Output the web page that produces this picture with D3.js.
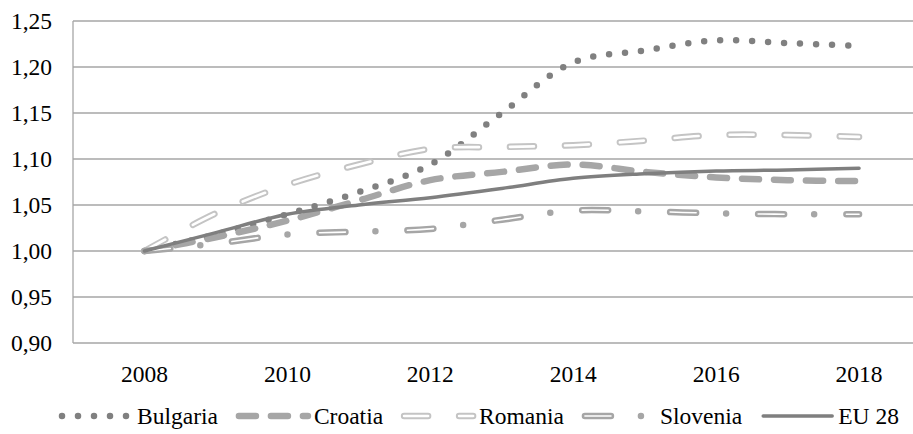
<!DOCTYPE html>
<html>
<head>
<meta charset="utf-8">
<script src="https://cdn.jsdelivr.net/npm/d3@7"></script>
</head>
<body style="margin:0">
<script>
// values
const years = [2008, 2009, 2010, 2011, 2012, 2013, 2014, 2015, 2016, 2017, 2018];
const bulgaria = [1.000, 1.018, 1.040, 1.064, 1.094, 1.150, 1.205, 1.218, 1.229, 1.226, 1.223];
const croatia  = [1.000, 1.015, 1.033, 1.055, 1.077, 1.086, 1.094, 1.086, 1.080, 1.077, 1.076];
const romania  = [1.000, 1.041, 1.072, 1.094, 1.111, 1.113, 1.115, 1.120, 1.126, 1.126, 1.124];
const slovenia = [1.000, 1.008, 1.018, 1.021, 1.024, 1.034, 1.044, 1.043, 1.041, 1.040, 1.040];
const eu28     = [1.000, 1.020, 1.040, 1.050, 1.058, 1.068, 1.079, 1.084, 1.087, 1.088, 1.090];
const yTicks = [0.90, 0.95, 1.00, 1.05, 1.10, 1.15, 1.20, 1.25];
const xTicks = [2008, 2010, 2012, 2014, 2016, 2018];

const width = 913, height = 434;
const margin = { top: 21, right: 0, bottom: 91, left: 73 };
const FONT = '"Liberation Serif"';
const FONT_SIZE = '23.5px';

// line styles per series (outer stroke, optional white inner stroke)
const series = [
    { name: 'Bulgaria', values: bulgaria, color: '#808080', w: 6.5, dash: '0 16' },
    { name: 'Croatia',  values: croatia,  color: '#a6a6a6', w: 6.5, dash: '17 15' },
    { name: 'Romania',  values: romania,  color: '#c4c4c4', w: 6.5, dash: '24 31', inner: 2.6, innerDash: '24 31' },
    { name: 'Slovenia', values: slovenia, color: '#a6a6a6', w: 6.5, dash: '26 30 0 32', inner: 1.6, innerDash: '26 62' },
    { name: 'EU 28',    values: eu28,     color: '#7f7f7f', w: 3.5, dash: null }
];

const svg = d3.select('body').append('svg')
    .attr('width', width)
    .attr('height', height)
    .style('display', 'block');

const x = d3.scaleLinear()
    .domain([2007, 2018.755])
    .range([margin.left, width - margin.right]);

const y = d3.scaleLinear()
    .domain([0.90, 1.25])
    .range([height - margin.bottom, margin.top]);

// gridlines
svg.append('g')
    .selectAll('line')
    .data(yTicks)
    .enter()
    .append('line')
    .attr('x1', margin.left)
    .attr('x2', width - margin.right)
    .attr('y1', d => y(d))
    .attr('y2', d => y(d))
    .attr('stroke', '#a6a6a6')
    .attr('stroke-width', 1.3);

// vertical axis line
svg.append('line')
    .attr('x1', margin.left)
    .attr('x2', margin.left)
    .attr('y1', y(1.25))
    .attr('y2', y(0.90))
    .attr('stroke', '#a6a6a6')
    .attr('stroke-width', 1.3);

// y labels
svg.append('g')
    .selectAll('text')
    .data(yTicks)
    .enter()
    .append('text')
    .attr('x', margin.left - 21)
    .attr('y', d => y(d))
    .attr('dy', '0.35em')
    .attr('text-anchor', 'end')
    .style('font-family', FONT)
    .style('font-size', FONT_SIZE)
    .text(d => d3.format('.2f')(d).replace('.', ','));

// x labels
svg.append('g')
    .selectAll('text')
    .data(xTicks)
    .enter()
    .append('text')
    .attr('x', d => x(d))
    .attr('y', height - margin.bottom + 39)
    .attr('text-anchor', 'middle')
    .style('font-family', FONT)
    .style('font-size', FONT_SIZE)
    .text(d => d);

const line = d3.line()
    .x((d, i) => x(years[i]))
    .y(d => y(d))
    .curve(d3.curveCatmullRom.alpha(0.5));

const lines = svg.append('g');
series.forEach(s => {
    lines.append('path')
        .attr('d', line(s.values))
        .attr('fill', 'none')
        .attr('stroke', s.color)
        .attr('stroke-width', s.w)
        .attr('stroke-linecap', 'round')
        .attr('stroke-linejoin', 'round')
        .attr('stroke-dasharray', s.dash);
    if (s.inner) {
        lines.append('path')
            .attr('d', line(s.values))
            .attr('fill', 'none')
            .attr('stroke', '#fff')
            .attr('stroke-width', s.inner)
            .attr('stroke-linecap', 'round')
            .attr('stroke-dasharray', s.innerDash);
    }
});

// legend
const legend = svg.append('g').attr('transform', 'translate(59, 416)');
let lx = 0;
series.forEach(s => {
    const row = legend.append('g').attr('transform', `translate(${lx}, 0)`);
    row.append('line')
        .attr('x1', 3).attr('x2', 72)
        .attr('stroke', s.color)
        .attr('stroke-width', s.w)
        .attr('stroke-linecap', 'round')
        .attr('stroke-dasharray', s.dash);
    if (s.inner) {
        row.append('line')
            .attr('x1', 3).attr('x2', 72)
            .attr('stroke', '#fff')
            .attr('stroke-width', s.inner)
            .attr('stroke-linecap', 'round')
            .attr('stroke-dasharray', s.innerDash);
    }
    const t = row.append('text')
        .attr('x', 78)
        .attr('dy', '0.35em')
        .style('font-family', FONT)
        .style('font-size', FONT_SIZE)
        .text(s.name);
    lx += 78 + t.node().getComputedTextLength() + 18;
});
</script>
</body>
</html>
